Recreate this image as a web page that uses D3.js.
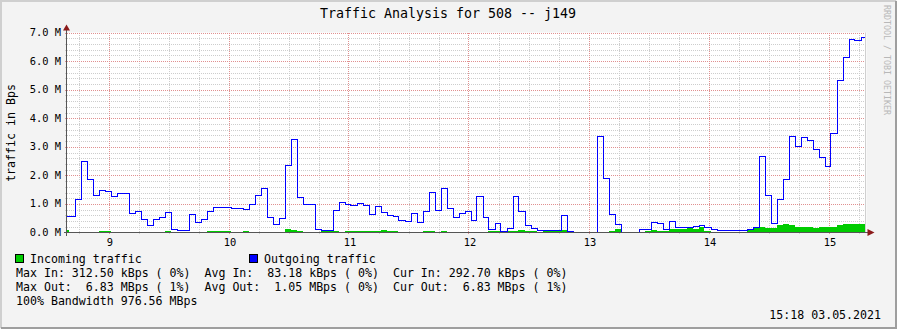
<!DOCTYPE html>
<html>
<head>
<meta charset="utf-8">
<title>Traffic Analysis for 508 -- j149</title>
<script src="https://d3js.org/d3.v7.min.js"></script>
<style>
  body { margin: 0; background: #F3F3F3; }
  text { font-family: "DejaVu Sans Mono", monospace; fill: #000; }
</style>
</head>
<body>
<svg id="chart" width="897" height="329"></svg>
<script>
// samples are 3 minute averages, the first one starts at 08:37
var stepStart = 8 * 60 + 37
var stepMinutes = 3
var nowMinutes = 15 * 60 + 18

// outgoing traffic, MBps
var outgoing = [0.58, 0.58, 1.19, 2.52, 1.89, 1.32, 1.49, 1.46, 1.28, 1.39,
  1.39, 0.69, 0.76, 0.48, 0.27, 0.48, 0.53, 0.72, 0.14, 0.09,
  0.09, 0.65, 0.37, 0.48, 0.76, 0.90, 0.90, 0.90, 0.875, 0.875,
  0.83, 1.00, 1.32, 1.56, 0.55, 0.30, 0.51, 2.37, 3.28, 1.25,
  1.00, 1.00, 0.13, 0.08, 0.08, 0.79, 1.07, 1.00, 0.97, 1.04,
  0.97, 0.65, 0.93, 0.72, 0.62, 0.58, 0.44, 0.41, 0.69, 0.37,
  0.76, 1.42, 0.79, 1.56, 0.86, 0.55, 0.69, 0.76, 0.44, 1.27,
  0.55, 0.13, 0.34, 0.06, 0.16, 1.27, 0.76, 0.27, 0.16, 0.09,
  0.09, 0.09, 0.09, 0.62, 0.05, 0.0, 0.0, 0.0, 0.02, 3.38,
  1.91, 0.65, 0.30, 0.02, 0.02, 0.0, 0.13, 0.13, 0.37, 0.34,
  0.13, 0.41, 0.20, 0.20, 0.20, 0.23, 0.27, 0.20, 0.13, 0.09,
  0.09, 0.09, 0.09, 0.09, 0.13, 0.18, 2.67, 1.32, 0.34, 1.16,
  1.88, 3.38, 3.02, 3.35, 3.24, 2.93, 2.63, 2.32, 3.49, 5.33,
  6.15, 6.79, 6.75, 6.83]

// incoming traffic, MBps
var incoming = [0.10, 0.03, 0.03, 0.03, 0.03, 0.02, 0.07, 0.07, 0.03, 0.03,
  0.03, 0.03, 0.03, 0.01, 0.01, 0.03, 0.03, 0.06, 0.03, 0.03,
  0.03, 0.03, 0.03, 0.03, 0.06, 0.06, 0.06, 0.06, 0.03, 0.01,
  0.04, 0.01, 0.03, 0.03, 0.01, 0.01, 0.01, 0.11, 0.08, 0.04,
  0.01, 0.01, 0.03, 0.07, 0.07, 0.07, 0.03, 0.07, 0.07, 0.07,
  0.07, 0.07, 0.07, 0.10, 0.07, 0.07, 0.03, 0.01, 0.01, 0.01,
  0.04, 0.04, 0.01, 0.07, 0.03, 0.03, 0.03, 0.03, 0.01, 0.03,
  0.03, 0.07, 0.07, 0.05, 0.05, 0.05, 0.10, 0.07, 0.07, 0.03,
  0.08, 0.08, 0.08, 0.08, 0.03, 0.0, 0.0, 0.0, 0.02, 0.02,
  0.01, 0.07, 0.14, 0.03, 0.0, 0.0, 0.01, 0.07, 0.10, 0.07,
  0.07, 0.14, 0.14, 0.14, 0.17, 0.14, 0.19, 0.07, 0.0, 0.0,
  0.0, 0.0, 0.0, 0.0, 0.09, 0.16, 0.18, 0.15, 0.15, 0.26,
  0.3125, 0.26, 0.21, 0.21, 0.18, 0.15, 0.18, 0.18, 0.18, 0.25,
  0.29, 0.30, 0.29, 0.2927]

var yTicks = [0, 1, 2, 3, 4, 5, 6, 7]
var xHours = [9, 10, 11, 12, 13, 14, 15]

var legendRows = [
  "Max In: 312.50 kBps ( 0%)  Avg In:  83.18 kBps ( 0%)  Cur In: 292.70 kBps ( 0%)",
  "Max Out:  6.83 MBps ( 1%)  Avg Out:  1.05 MBps ( 0%)  Cur Out:  6.83 MBps ( 1%)",
  "100% Bandwidth 976.56 MBps"
]

var W = 897, H = 329
var svg = d3.select("#chart")

// background and 3d frame
svg.append("rect").attr("width", W).attr("height", H).attr("fill", "#F3F3F3")
svg.append("path").attr("d", "M1,328 V1 H896").attr("fill", "none")
  .attr("stroke", "#CFCFCF").attr("stroke-width", 2)
svg.append("path").attr("d", "M1,328 H896 V1").attr("fill", "none")
  .attr("stroke", "#9E9E9E").attr("stroke-width", 2)

var pLeft = 66.5, pRight = 866.5, pTop = 32.5, pBottom = 232.5

var x = d3.scaleLinear().domain([stepStart + 2, stepStart + 2 + 400]).range([pLeft, pRight])
var y = d3.scaleLinear().domain([0, 7]).range([pBottom, pTop])

svg.append("rect").attr("x", pLeft).attr("y", pTop)
  .attr("width", pRight - pLeft).attr("height", pBottom - pTop).attr("fill", "#FFFFFF")

svg.append("clipPath").attr("id", "plot")
  .append("rect").attr("x", pLeft).attr("y", pTop - 2)
  .attr("width", pRight - pLeft).attr("height", pBottom - pTop + 2)

var grid = svg.append("g").attr("shape-rendering", "crispEdges")

// minor grid: every 0.2 M and every 15 minutes
var minorY = d3.range(1, 35).filter(d => d % 5 != 0).map(d => d / 5)
grid.selectAll(".my").data(minorY).enter().append("line")
  .attr("x1", pLeft - 2).attr("x2", pRight)
  .attr("y1", d => Math.round(y(d)) + 0.5).attr("y2", d => Math.round(y(d)) + 0.5)
  .attr("stroke", "#CDCDCD").attr("stroke-dasharray", "1,1")

var minorX = d3.range(8 * 4 + 3, 15 * 4 + 2).filter(d => d % 4 != 0).map(d => d * 15)
  .filter(d => x(d) > pLeft && x(d) < pRight)
grid.selectAll(".mx").data(minorX).enter().append("line")
  .attr("x1", d => Math.round(x(d)) + 0.5).attr("x2", d => Math.round(x(d)) + 0.5)
  .attr("y1", pTop).attr("y2", pBottom + 2)
  .attr("stroke", "#CDCDCD").attr("stroke-dasharray", "1,1")

// major grid: every 1 M and every hour
grid.selectAll(".gy").data(yTicks.slice(1)).enter().append("line")
  .attr("x1", pLeft - 2).attr("x2", pRight)
  .attr("y1", d => Math.round(y(d)) + 0.5).attr("y2", d => Math.round(y(d)) + 0.5)
  .attr("stroke", "#E09090").attr("stroke-dasharray", "1,1")

grid.selectAll(".gx").data(xHours).enter().append("line")
  .attr("x1", d => Math.round(x(d * 60)) + 0.5).attr("x2", d => Math.round(x(d * 60)) + 0.5)
  .attr("y1", pTop).attr("y2", pBottom + 2)
  .attr("stroke", "#E09090").attr("stroke-dasharray", "1,1")

// samples
var outPts = outgoing.map((v, i) => [stepStart + i * stepMinutes, v])
outPts.push([nowMinutes, outgoing[outgoing.length - 1]])
var inPts = incoming.map((v, i) => [stepStart + i * stepMinutes, v])
inPts.push([nowMinutes, incoming[incoming.length - 1]])

var plot = svg.append("g").attr("clip-path", "url(#plot)")

plot.append("path").datum(inPts)
  .attr("d", d3.area().curve(d3.curveStepAfter)
    .x(d => Math.round(x(d[0]))).y0(pBottom).y1(d => Math.round(y(d[1]))))
  .attr("fill", "#00CC00").attr("shape-rendering", "crispEdges")

plot.append("path").datum(outPts)
  .attr("d", d3.line().curve(d3.curveStepAfter)
    .x(d => Math.round(x(d[0])) + 0.5).y(d => Math.round(y(d[1])) + 0.5))
  .attr("fill", "none").attr("stroke", "#0000FF").attr("stroke-width", 1)
  .attr("shape-rendering", "crispEdges")

// end of data marker
svg.append("line").attr("x1", Math.round(x(nowMinutes)) + 0.5).attr("x2", Math.round(x(nowMinutes)) + 0.5)
  .attr("y1", pTop).attr("y2", pBottom).attr("stroke", "#D0D0D0")

// axes
var axes = svg.append("g").attr("shape-rendering", "crispEdges")
axes.append("line").attr("x1", pLeft).attr("x2", pLeft).attr("y1", pBottom + 3).attr("y2", pTop - 4)
  .attr("stroke", "#555555")
axes.append("line").attr("x1", pLeft - 3).attr("x2", pRight + 2).attr("y1", pBottom).attr("y2", pBottom)
  .attr("stroke", "#555555")
svg.append("path").attr("d", `M${pLeft - 3.5},${pTop - 2} L${pLeft},${pTop - 8} L${pLeft + 3.5},${pTop - 2} Z`)
  .attr("fill", "#8B1A1A")
svg.append("path").attr("d", `M${pRight + 1},${pBottom - 3.5} L${pRight + 8},${pBottom} L${pRight + 1},${pBottom + 3.5} Z`)
  .attr("fill", "#8B1A1A")

// tick labels
svg.selectAll(".yl").data(yTicks).enter().append("text")
  .attr("x", 61).attr("y", d => y(d) + 3.5)
  .attr("text-anchor", "end").attr("font-size", "10.4px")
  .text(d => d.toFixed(1) + " M")

svg.selectAll(".xl").data(xHours).enter().append("text")
  .attr("x", d => x(d * 60) + 1.5).attr("y", 246)
  .attr("text-anchor", "middle").attr("font-size", "10.4px")
  .text(d => d)

svg.append("text").attr("transform", "translate(15,133) rotate(-90)")
  .attr("text-anchor", "middle").attr("font-size", "11.6px").text("traffic in Bps")

svg.append("text").attr("x", 448).attr("y", 18)
  .attr("text-anchor", "middle").attr("font-size", "13.3px")
  .text("Traffic Analysis for 508 -- j149")

svg.append("text").attr("transform", "translate(884,5) rotate(90)")
  .attr("font-size", "8.3px").style("fill", "#B8B8B8")
  .text("RRDTOOL / TOBI OETIKER")

// legend
var keys = [{label: "Incoming traffic", color: "#00CC00", x: 15},
            {label: "Outgoing traffic", color: "#0000FF", x: 249}]
var key = svg.selectAll(".key").data(keys).enter().append("g")
key.append("rect").attr("x", d => d.x + 0.5).attr("y", 254.5).attr("width", 8).attr("height", 8)
  .attr("fill", d => d.color).attr("stroke", "#000").attr("shape-rendering", "crispEdges")
key.append("text").attr("x", d => d.x + 15).attr("y", 263).attr("font-size", "11.6px")
  .text(d => d.label)

svg.selectAll(".row").data(legendRows).enter().append("text")
  .attr("x", 16).attr("y", (d, i) => 277 + i * 14).attr("font-size", "11.6px")
  .attr("xml:space", "preserve").style("white-space", "pre")
  .text(d => d)

svg.append("text").attr("x", 881).attr("y", 319).attr("text-anchor", "end")
  .attr("font-size", "11.6px").text("15:18 03.05.2021")
</script>
</body>
</html>
